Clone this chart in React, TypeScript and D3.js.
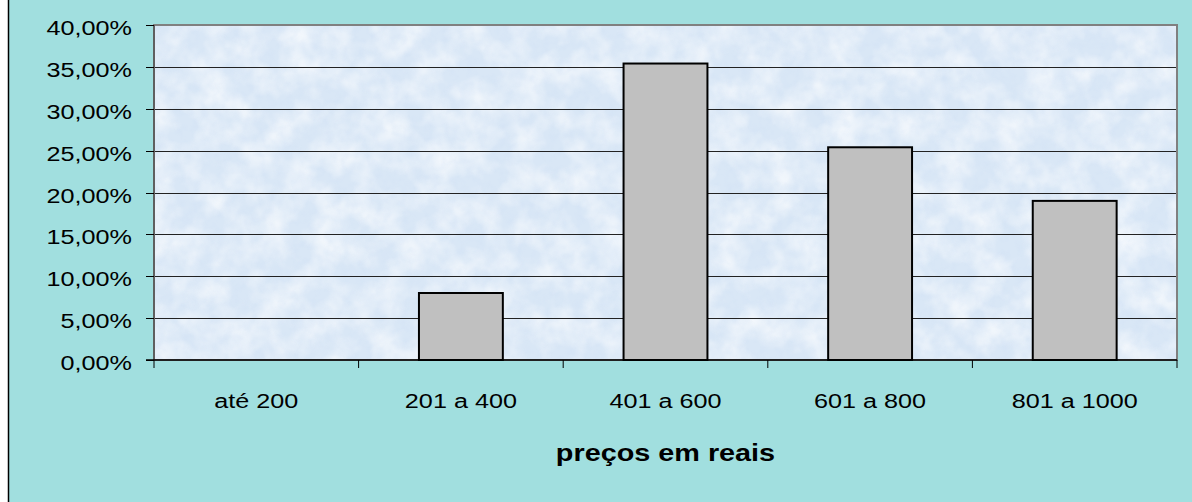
import React from "react";
import * as d3 from "d3";

const categories: string[] = ["até 200", "201 a 400", "401 a 600", "601 a 800", "801 a 1000"];
const values: number[] = [0, 8.0, 35.4, 25.4, 19.0];
const yTicks: number[] = [0, 5, 10, 15, 20, 25, 30, 35, 40];
const xTitle = "preços em reais";

const W = 1192;
const H = 502;
const plot = { left: 154, right: 1177, top: 25, bottom: 360 };
const SX = 1.2; // horizontal stretch of text

const fmt = (v: number) => d3.format(".2f")(v).replace(".", ",") + "%";

export default function App() {
  const x = d3
    .scaleBand<string>()
    .domain(categories)
    .range([plot.left, plot.right])
    .paddingInner(0.59)
    .paddingOuter(0.295);
  const step = (plot.right - plot.left) / categories.length;
  const y = d3.scaleLinear().domain([0, 40]).range([plot.bottom, plot.top]);
  const font = "Arial, 'Liberation Sans', sans-serif";

  return (
    <svg
      width={W}
      height={H}
      style={{ position: "absolute", left: 0, top: 0, display: "block" }}
    >
      <defs>
        <filter id="tex" x="0" y="0" width="100%" height="100%">
          <feTurbulence type="fractalNoise" baseFrequency="0.035" numOctaves="3" seed="7" />
          <feColorMatrix
            type="matrix"
            values="0 0 0 0 1  0 0 0 0 1  0 0 0 0 1  1.6 0 0 0 -0.55"
          />
        </filter>
        <filter id="tex2" x="0" y="0" width="100%" height="100%">
          <feTurbulence type="fractalNoise" baseFrequency="0.12" numOctaves="2" seed="11" />
          <feColorMatrix
            type="matrix"
            values="0 0 0 0 0.6  0 0 0 0 0.72  0 0 0 0 0.9  0 0 1.4 0 -0.6"
          />
        </filter>
      </defs>
      <rect x={0} y={0} width={W} height={H} fill="#ffffff" />
      <rect x={8} y={0} width={W - 8} height={H} fill="#a1dfdf" />
      <line x1={8.5} x2={8.5} y1={0} y2={H} stroke="#000" strokeWidth={1.5} />

      {/* plot area */}
      <rect
        x={plot.left}
        y={plot.top}
        width={plot.right - plot.left}
        height={plot.bottom - plot.top}
        fill="#d9e7f6"
      />
      <rect
        x={plot.left}
        y={plot.top}
        width={plot.right - plot.left}
        height={plot.bottom - plot.top}
        fill="#fff"
        filter="url(#tex)"
        opacity={0.8}
      />
      <rect
        x={plot.left}
        y={plot.top}
        width={plot.right - plot.left}
        height={plot.bottom - plot.top}
        fill="#fff"
        filter="url(#tex2)"
        opacity={0.35}
      />

      {/* gridlines */}
      {yTicks
        .filter((t) => t > 0 && t < 40)
        .map((t) => (
          <line
            key={"g" + t}
            x1={plot.left}
            x2={plot.right}
            y1={Math.round(y(t)) + 0.5}
            y2={Math.round(y(t)) + 0.5}
            stroke="#222"
            strokeWidth={1}
          />
        ))}

      {/* plot border */}
      <rect
        x={plot.left}
        y={plot.top}
        width={plot.right - plot.left}
        height={plot.bottom - plot.top}
        fill="none"
        stroke="#808080"
        strokeWidth={2}
      />

      {/* bars */}
      {categories.map((c, i) =>
        values[i] > 0 ? (
          <rect
            key={"b" + c}
            x={x(c)}
            y={y(values[i])}
            width={x.bandwidth()}
            height={plot.bottom - y(values[i])}
            fill="#c0c0c0"
            stroke="#000"
            strokeWidth={2}
          />
        ) : null
      )}

      {/* axes */}
      <line x1={plot.left} x2={plot.left} y1={plot.top} y2={plot.bottom} stroke="#555" strokeWidth={1.5} />
      <line x1={plot.left - 8} x2={plot.right} y1={plot.bottom} y2={plot.bottom} stroke="#000" strokeWidth={1.5} />
      {yTicks.map((t) => (
        <line
          key={"yt" + t}
          x1={plot.left - 8}
          x2={plot.left}
          y1={Math.round(y(t)) + 0.5}
          y2={Math.round(y(t)) + 0.5}
          stroke="#000"
          strokeWidth={1}
        />
      ))}
      {d3.range(categories.length + 1).map((i) => (
        <line
          key={"xt" + i}
          x1={plot.left + step * i}
          x2={plot.left + step * i}
          y1={plot.bottom}
          y2={plot.bottom + 8}
          stroke="#000"
          strokeWidth={1}
        />
      ))}

      {/* y labels */}
      {yTicks.map((t) => (
        <text
          key={"yl" + t}
          transform={`translate(${132},${y(t) + 10}) scale(${SX},1)`}
          textAnchor="end"
          fontFamily={font}
          fontSize={21}
          fill="#000"
        >
          {fmt(t)}
        </text>
      ))}

      {/* x labels */}
      {categories.map((c) => (
        <text
          key={"xl" + c}
          transform={`translate(${(x(c) as number) + x.bandwidth() / 2},${408}) scale(${SX},1)`}
          textAnchor="middle"
          fontFamily={font}
          fontSize={21}
          fill="#000"
        >
          {c}
        </text>
      ))}

      {/* x title */}
      <text
        transform={`translate(${(plot.left + plot.right) / 2},${257 + 0}) scale(1,1)`}
        textAnchor="middle"
        fontFamily={font}
        fontSize={0}
      ></text>
      <text
        transform={`translate(${(plot.left + plot.right) / 2},${461}) scale(${SX},1)`}
        textAnchor="middle"
        fontFamily={font}
        fontWeight="bold"
        fontSize={24}
        fill="#000"
      >
        {xTitle}
      </text>
    </svg>
  );
}
